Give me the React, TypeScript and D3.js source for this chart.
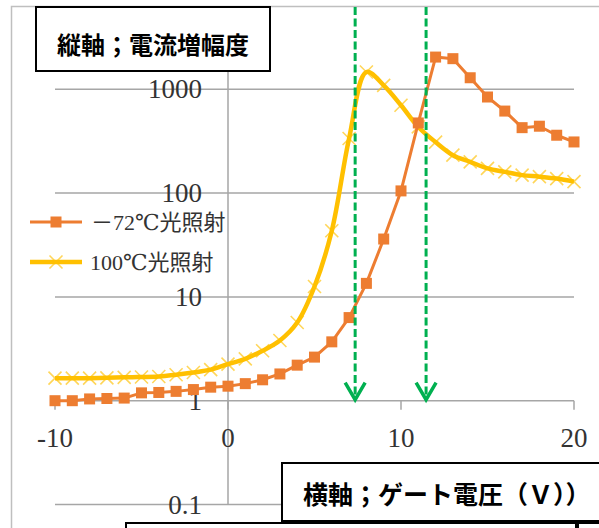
import React from "react";
import * as d3 from "d3";

const voltages = [-10, -9, -8, -7, -6, -5, -4, -3, -2, -1, 0, 1, 2, 3, 4, 5, 6, 7, 8, 9, 10, 11, 12, 13, 14, 15, 16, 17, 18, 19, 20];
const coldSeries = [1.0, 1.0, 1.04, 1.05, 1.06, 1.19, 1.2, 1.23, 1.28, 1.35, 1.38, 1.46, 1.59, 1.81, 2.2, 2.63, 3.69, 6.32, 13.5, 36.1, 105, 474, 2044, 1973, 1292, 843, 617, 427, 441, 361, 311];
const hotSeries = [1.65, 1.65, 1.65, 1.66, 1.68, 1.69, 1.71, 1.78, 1.87, 1.99, 2.25, 2.53, 3.03, 3.8, 5.66, 12.6, 43.4, 336, 1467, 1092, 702, 434, 310, 232, 200, 173, 160, 149, 144, 138, 129];
const seriesNames = ["－72℃光照射", "100℃光照射"];
const xTicks = [-10, 0, 10, 20];
const yTicks = [0.1, 1, 10, 100, 1000];
const markerVoltages = [7.35, 11.45];
const yTitle = "縦軸；電流増幅度";
const xTitle = "横軸；ゲート電圧（Ｖ））";

const W = 599;
const H = 528;
const ORANGE = "#ED7D31";
const YELLOW = "#FFC000";
const GREEN = "#00B050";
const GRID = "#A6A6A6";
const serif = "'Liberation Serif','DejaVu Serif','Noto Sans CJK JP',serif";
const cjk = "'Noto Sans CJK JP','Noto Sans',sans-serif";

export default function App() {
  React.useEffect(() => {
    document.body.style.margin = "0";
  }, []);

  const x = d3.scaleLinear().domain([-10, 20]).range([55, 574]);
  const y = d3.scaleLog().domain([0.1, 1000]).range([504.5, 89.3]);

  const coldPts: [number, number][] = voltages.map((v, i) => [x(v), y(coldSeries[i])]);
  const hotPts: [number, number][] = voltages.map((v, i) => [x(v), y(hotSeries[i])]);

  const straight = d3.line();
  const smooth = d3.line().curve(d3.curveCatmullRom.alpha(0.5));

  const sq = 11;
  const xs = 6.5;
  const axisY = y(1);

  return (
    <svg width={W} height={H} style={{ position: "absolute", left: 0, top: 0, background: "#fff" }}>
      <rect x={0} y={0} width={W} height={H} fill="#fff" />
      {/* chart border */}
      <path d={`M11.5,${H}V6.5H${W}`} fill="none" stroke="#BFBFBF" strokeWidth={1.5} />

      {/* gridlines */}
      {yTicks.filter((t) => t !== 1).map((t) => (
        <line key={t} x1={x(-10)} x2={x(20)} y1={y(t)} y2={y(t)} stroke={GRID} strokeWidth={1.5} />
      ))}
      {/* y axis */}
      <line x1={x(0)} x2={x(0)} y1={6} y2={y(0.1)} stroke={GRID} strokeWidth={1.5} />
      {/* x axis */}
      <line x1={x(-10)} x2={x(20)} y1={axisY} y2={axisY} stroke={GRID} strokeWidth={1.5} />
      {xTicks.map((t) => (
        <line key={t} x1={x(t)} x2={x(t)} y1={axisY} y2={axisY + 9} stroke={GRID} strokeWidth={1.5} />
      ))}

      {/* y tick labels */}
      {yTicks.map((t) => (
        <text key={t} x={202} y={y(t)} textAnchor="end" dominantBaseline="central" fontFamily={serif} fontSize={27} fill="#333">
          {String(t)}
        </text>
      ))}
      {/* x tick labels */}
      {xTicks.map((t) => (
        <text key={t} x={x(t)} y={438} textAnchor="middle" dominantBaseline="central" fontFamily={serif} fontSize={27} fill="#333">
          {String(t)}
        </text>
      ))}

      {/* hot series */}
      <path d={smooth(hotPts) || ""} fill="none" stroke={YELLOW} strokeWidth={4.5} strokeLinejoin="round" />
      {hotPts.map(([px, py], i) => (
        <path key={i} d={`M${px - xs},${py - xs}L${px + xs},${py + xs}M${px - xs},${py + xs}L${px + xs},${py - xs}`} stroke={YELLOW} strokeOpacity={0.65} strokeWidth={1.6} fill="none" />
      ))}

      {/* cold series */}
      <path d={straight(coldPts) || ""} fill="none" stroke={ORANGE} strokeWidth={3} strokeLinejoin="round" />
      {coldPts.map(([px, py], i) => (
        <rect key={i} x={px - sq / 2} y={py - sq / 2} width={sq} height={sq} fill={ORANGE} />
      ))}

      {/* green dashed arrows */}
      {markerVoltages.map((v) => (
        <g key={v}>
          <line x1={x(v)} x2={x(v)} y1={7} y2={axisY - 2} stroke={GREEN} strokeWidth={3} strokeDasharray="8 3.5" />
          <path d={`M${x(v) - 10},${axisY - 18}L${x(v)},${axisY - 1}L${x(v) + 10},${axisY - 18}`} fill="none" stroke={GREEN} strokeWidth={3.5} />
        </g>
      ))}

      {/* legend */}
      <g>
        <line x1={30} x2={82} y1={222} y2={222} stroke={ORANGE} strokeWidth={3} />
        <rect x={56 - sq / 2} y={222 - sq / 2} width={sq} height={sq} fill={ORANGE} />
        <text x={91} y={222} dominantBaseline="central" fontFamily={serif} fontSize={22} fill="#333">
          {seriesNames[0]}
        </text>
        <line x1={30} x2={82} y1={262} y2={262} stroke={YELLOW} strokeWidth={4.5} />
        <path d={`M${56 - xs},${262 - xs}L${56 + xs},${262 + xs}M${56 - xs},${262 + xs}L${56 + xs},${262 - xs}`} stroke={YELLOW} strokeOpacity={0.65} strokeWidth={1.6} />
        <text x={90} y={262} dominantBaseline="central" fontFamily={serif} fontSize={22} fill="#333">
          {seriesNames[1]}
        </text>
      </g>

      {/* title boxes */}
      <rect x={36} y={7} width={234} height={64} fill="#fff" stroke="#000" strokeWidth={2} />
      <text x={153} y={43} textAnchor="middle" dominantBaseline="central" fontFamily={cjk} fontWeight={700} fontSize={24} fill="#000">
        {yTitle}
      </text>

      <rect x={282} y={463} width={340} height={58} fill="#fff" stroke="#000" strokeWidth={2} />
      <text x={303} y={493} dominantBaseline="central" fontFamily={cjk} fontWeight={700} fontSize={25} fill="#000">
        {xTitle}
      </text>
      <rect x={126} y={523} width={450} height={30} fill="#fff" stroke="#000" strokeWidth={2} />
      <rect x={578} y={523} width={60} height={30} fill="#fff" stroke="#000" strokeWidth={2} />
    </svg>
  );
}
